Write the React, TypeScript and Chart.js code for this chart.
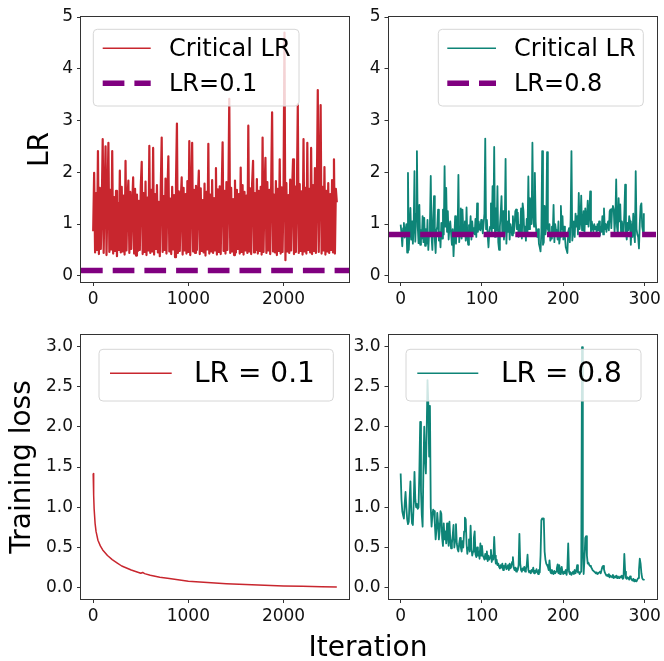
import React, { useEffect, useRef } from 'react';
import { Chart, registerables } from 'chart.js';

Chart.register(...registerables);

// ---------------- data ----------------
// Top-left: critical LR while training with LR = 0.1 (sampled every 10 iterations)
const lr01IterStep = 10;
const criticalLR01 = [
  0.86, 1.99, 0.45, 1.60, 0.50, 2.41, 0.42, 1.70, 0.52, 1.35, 2.64, 0.44, 1.58, 2.50, 0.40, 1.48,
  2.57, 0.46, 1.66, 0.51, 2.41, 0.43, 1.52, 0.48, 1.64, 0.38, 1.41, 0.50, 2.03, 0.45, 1.72, 0.47,
  1.55, 0.41, 2.22, 0.49, 1.48, 1.84, 0.44, 1.62, 0.52, 1.37, 1.90, 0.43, 1.68, 0.39, 1.57, 0.48,
  1.45, 0.50, 1.73, 2.20, 0.42, 1.60, 0.46, 1.82, 0.40, 1.51, 0.49, 2.51, 0.44, 1.66, 0.47, 2.47,
  0.41, 1.58, 0.52, 1.75, 0.45, 1.43, 0.38, 1.69, 2.67, 0.46, 1.54, 0.50, 1.88, 0.43, 1.61, 2.31,
  0.47, 1.49, 0.42, 1.72, 0.51, 1.56, 0.36, 1.80, 2.94, 0.44, 1.63, 0.48, 1.47, 1.90, 0.41, 1.70,
  0.49, 1.58, 0.43, 1.83, 0.46, 2.60, 0.40, 1.52, 2.57, 0.47, 1.66, 0.44, 1.74, 0.50, 1.55, 2.03,
  0.42, 1.69, 0.48, 1.46, 0.45, 1.78, 0.39, 1.62, 0.51, 2.55, 0.43, 1.57, 0.47, 1.85, 0.44, 1.50,
  0.49, 2.08, 0.41, 1.67, 0.46, 1.73, 0.42, 1.59, 2.58, 0.48, 1.64, 0.43, 1.81, 0.50, 1.53, 3.42,
  0.44, 1.70, 0.47, 1.48, 0.40, 1.84, 0.45, 1.66, 0.52, 1.58, 0.43, 2.09, 0.46, 1.75, 0.41, 1.62,
  0.49, 1.55, 0.44, 2.90, 0.47, 1.69, 0.42, 1.78, 2.22, 0.45, 1.60, 0.50, 1.87, 0.43, 1.64, 0.48,
  1.72, 0.41, 2.67, 0.46, 1.59, 2.28, 0.44, 1.81, 0.49, 1.66, 0.42, 1.74, 3.16, 0.47, 1.57, 0.45,
  1.83, 0.40, 1.68, 0.48, 2.25, 0.43, 1.71, 0.46, 1.62, 4.70, 0.30, 1.79, 0.47, 1.56, 0.44, 1.86,
  0.49, 1.65, 2.25, 0.42, 1.73, 0.46, 1.60, 3.31, 0.44, 1.77, 0.48, 1.63, 0.41, 2.64, 0.47, 1.70,
  0.43, 2.57, 0.50, 1.68, 0.45, 2.47, 0.42, 1.75, 0.48, 2.08, 0.44, 1.66, 3.59, 0.46, 1.81, 3.30,
  0.43, 1.72, 0.49, 2.10, 0.41, 1.64, 0.47, 1.79, 0.44, 1.58, 0.50, 1.85, 0.45, 2.25, 0.43, 1.68,
  1.42,
];
const lr01Value = 0.1;

// Top-right: critical LR while training with LR = 0.8 (every iteration)
const criticalLR08 = [
  0.99, 0.82, 0.57, 0.92, 1.02, 0.74, 0.88, 1.00, 0.45, 1.99, 0.50, 0.85, 1.31, 0.70, 1.05, 0.62, 0.95, 2.02, 0.66, 1.20,
  2.41, 0.95, 0.63, 1.37, 0.60, 0.88, 0.72, 1.15, 0.65, 1.12, 0.58, 0.90, 0.62, 1.08, 0.50, 0.82, 1.00, 1.93, 0.75, 0.50,
  1.10, 1.54, 0.70, 0.44, 0.88, 0.95, 1.28, 0.68, 0.85, 0.55, 1.02, 0.72, 1.28, 0.80, 2.12, 0.95, 1.70, 0.85, 1.25, 0.70,
  0.95, 1.05, 0.82, 0.60, 0.90, 0.38, 0.75, 1.15, 0.62, 0.95, 0.80, 1.95, 0.65, 0.88, 1.30, 0.72, 1.28, 0.90, 0.78, 1.05,
  0.68, 1.32, 0.75, 0.60, 0.98, 0.85, 1.15, 0.70, 1.05, 0.82, 0.92, 0.80, 1.10, 0.75, 1.40, 0.85, 1.05, 0.90, 0.88, 1.08,
  0.95, 0.82, 1.00, 1.20, 2.65, 0.90, 1.08, 0.78, 0.55, 0.85, 0.95, 1.40, 0.80, 1.73, 0.92, 2.49, 0.75, 1.30, 0.88, 1.73,
  0.65, 0.50, 0.95, 1.20, 1.54, 0.80, 1.25, 0.70, 0.95, 2.26, 0.62, 1.05, 0.85, 1.25, 0.70, 1.00, 0.92, 0.78, 1.15, 0.82,
  0.95, 1.25, 1.28, 0.90, 1.22, 0.75, 0.98, 0.85, 1.30, 0.72, 1.40, 1.25, 0.80, 0.95, 0.68, 1.10, 0.85, 1.92, 0.90, 1.50,
  1.10, 1.00, 2.57, 1.20, 0.95, 1.99, 1.05, 0.80, 0.75, 0.90, 0.62, 0.55, 0.47, 0.85, 2.41, 0.60, 0.65, 1.35, 0.80, 0.95,
  2.39, 0.90, 0.85, 1.00, 0.68, 0.72, 0.95, 0.80, 1.37, 0.65, 1.00, 0.88, 0.85, 0.70, 1.05, 0.62, 0.75, 1.35, 0.90, 1.15,
  0.70, 0.95, 0.75, 0.55, 0.50, 0.44, 0.85, 0.92, 0.65, 1.10, 2.41, 0.68, 0.85, 1.05, 0.75, 1.20, 0.95, 1.15, 0.80, 1.60,
  0.90, 1.05, 1.55, 0.88, 0.95, 1.25, 0.82, 1.30, 1.00, 1.10, 1.45, 0.95, 1.20, 1.63, 0.85, 1.05, 0.92, 0.85, 1.00, 0.90,
  0.95, 0.82, 1.00, 0.88, 1.05, 0.78, 0.95, 0.85, 1.15, 0.80, 1.30, 0.90, 1.00, 0.85, 0.98, 1.05, 0.88, 1.25, 1.28, 0.92,
  1.30, 1.35, 1.28, 0.85, 1.10, 1.86, 0.95, 0.80, 1.50, 1.05, 1.38, 0.82, 1.05, 0.90, 0.78, 1.20, 1.76, 0.85, 0.70, 1.02,
  0.88, 1.15, 1.05, 0.60, 1.00, 0.75, 1.20, 0.82, 0.65, 2.02, 0.90, 0.80, 0.75, 0.53, 1.00, 1.35, 1.40, 0.95, 0.85, 1.21,
];
const lr08Value = 0.8;

// Bottom-left: training loss with LR = 0.1
const loss01Iterations = [0, 5, 10, 20, 30, 50, 75, 100, 150, 200, 250, 300, 400, 500, 520, 540, 600, 700, 800, 1000, 1200, 1400, 1600, 1800, 2000, 2200, 2400, 2560];
const loss01 = [1.42, 1.15, 0.98, 0.80, 0.70, 0.59, 0.52, 0.47, 0.40, 0.35, 0.31, 0.27, 0.22, 0.18, 0.19, 0.175, 0.155, 0.13, 0.115, 0.08, 0.065, 0.05, 0.04, 0.03, 0.022, 0.017, 0.013, 0.01];

// Bottom-right: training loss with LR = 0.8 (every iteration)
const loss08 = [
  1.42, 1.10, 0.95, 0.90, 0.86, 1.05, 1.19, 1.00, 0.85, 0.79, 0.82, 1.10, 1.32, 0.95, 0.80, 0.78, 1.05, 1.44, 1.10, 1.00,
  1.04, 0.98, 1.00, 1.45, 2.06, 1.20, 0.90, 0.76, 1.50, 2.00, 1.60, 1.42, 1.95, 2.58, 2.29, 1.63, 2.26, 1.00, 0.76, 0.90,
  0.97, 0.95, 0.80, 0.60, 0.72, 0.93, 0.80, 0.60, 0.70, 0.95, 0.92, 0.62, 0.52, 0.80, 0.60, 0.70, 0.55, 0.80, 0.65, 0.52,
  0.82, 0.60, 0.49, 0.55, 0.65, 0.78, 0.50, 0.60, 0.79, 0.55, 0.48, 0.45, 0.55, 0.62, 0.50, 0.45, 0.58, 0.50, 0.70, 0.87,
  0.85, 0.55, 0.42, 0.50, 0.60, 0.45, 0.77, 0.50, 0.40, 0.45, 0.62, 0.70, 0.42, 0.38, 0.50, 0.40, 0.45, 0.36, 0.55, 0.40,
  0.52, 0.40, 0.38, 0.35, 0.42, 0.36, 0.45, 0.33, 0.40, 0.35, 0.38, 0.47, 0.32, 0.40, 0.35, 0.63, 0.40, 0.30, 0.35, 0.28,
  0.30, 0.26, 0.24, 0.28, 0.25, 0.30, 0.22, 0.27, 0.25, 0.30, 0.23, 0.25, 0.28, 0.22, 0.30, 0.24, 0.26, 0.32, 0.38, 0.25,
  0.22, 0.25, 0.20, 0.24, 0.22, 0.28, 0.67, 0.30, 0.22, 0.20, 0.24, 0.22, 0.26, 0.20, 0.23, 0.28, 0.41, 0.22, 0.19, 0.21,
  0.18, 0.22, 0.20, 0.25, 0.18, 0.21, 0.19, 0.23, 0.20, 0.17, 0.22, 0.19, 0.40, 0.84, 0.86, 0.85, 0.86, 0.45, 0.35, 0.30,
  0.28, 0.26, 0.22, 0.34, 0.20, 0.18, 0.22, 0.19, 0.17, 0.21, 0.18, 0.20, 0.24, 0.29, 0.18, 0.28, 0.17, 0.22, 0.26, 0.19,
  0.17, 0.20, 0.18, 0.22, 0.16, 0.25, 0.55, 0.20, 0.17, 0.19, 0.16, 0.18, 0.20, 0.17, 0.22, 0.18, 0.21, 0.28, 0.19, 0.20,
  0.17, 0.19, 0.20, 2.99, 0.45, 0.17, 0.35, 0.62, 0.64, 0.40, 0.30, 0.31, 0.28, 0.27, 0.26, 0.24, 0.22, 0.21, 0.20, 0.19,
  0.18, 0.19, 0.17, 0.18, 0.19, 0.20, 0.18, 0.22, 0.26, 0.27, 0.23, 0.19, 0.17, 0.15, 0.16, 0.14, 0.17, 0.13, 0.15, 0.14,
  0.13, 0.16, 0.12, 0.14, 0.13, 0.15, 0.12, 0.14, 0.13, 0.12, 0.14, 0.13, 0.15, 0.11, 0.12, 0.42, 0.20, 0.12, 0.11, 0.13,
  0.12, 0.10, 0.14, 0.12, 0.10, 0.09, 0.11, 0.08, 0.10, 0.09, 0.08, 0.10, 0.12, 0.22, 0.36, 0.30, 0.18, 0.12, 0.10, 0.11,
];

// axes
const lrYTicks = [0, 1, 2, 3, 4, 5];
const lossYTicks = [0, 0.5, 1.0, 1.5, 2.0, 2.5, 3.0];
const longXTicks = [0, 1000, 2000];
const shortXTicks = [0, 100, 200, 300];
const lrYRange = [-0.12, 5];
const lossYRange = [-0.14, 3.14];
const longXRange = [-128, 2688];
const shortXRange = [-14.95, 313.95];

const seriesLabels = {
  critical: 'Critical LR',
  lr01: 'LR=0.1',
  lr08: 'LR=0.8',
  loss01: 'LR = 0.1',
  loss08: 'LR = 0.8',
};

// ---------------- styles ----------------
const FONT = "'DejaVu Sans', 'Noto Sans', sans-serif";
const RED = '#c8262e';
const TEAL = '#0e8477';
const PURPLE = '#800080';

Chart.defaults.font.family = FONT;

const frameLegendPlugin = {
  id: 'frameLegend',
  afterDatasetsDraw(chart: any, _args: any, opts: any) {
    const { ctx, chartArea: a } = chart;
    ctx.save();
    // frame (spines)
    ctx.strokeStyle = '#333333';
    ctx.lineWidth = 1;
    ctx.strokeRect(Math.round(a.left) - 0.5, Math.round(a.top) - 0.5, Math.round(a.right - a.left) + 1, Math.round(a.bottom - a.top) + 1);
    // legend box
    const L = opts.legend;
    if (L) {
      const x = a.left + L.x, y = a.top + L.y, w = L.w, h = L.h, r = 4;
      ctx.beginPath();
      ctx.moveTo(x + r, y);
      ctx.lineTo(x + w - r, y);
      ctx.arcTo(x + w, y, x + w, y + r, r);
      ctx.lineTo(x + w, y + h - r);
      ctx.arcTo(x + w, y + h, x + w - r, y + h, r);
      ctx.lineTo(x + r, y + h);
      ctx.arcTo(x, y + h, x, y + h - r, r);
      ctx.lineTo(x, y + r);
      ctx.arcTo(x, y, x + r, y, r);
      ctx.closePath();
      ctx.fillStyle = 'rgba(255,255,255,0.8)';
      ctx.fill();
      ctx.strokeStyle = '#d6d6d6';
      ctx.lineWidth = 1;
      ctx.stroke();
      chart.data.datasets.forEach((ds: any, i: number) => {
        const cy = a.top + L.rows[i];
        ctx.beginPath();
        ctx.setLineDash(ds.borderDash || []);
        ctx.lineCap = 'butt';
        ctx.strokeStyle = ds.borderColor;
        ctx.lineWidth = ds.borderDash ? ds.borderWidth : L.sampleWidth;
        ctx.moveTo(a.left + L.s0, cy);
        ctx.lineTo(a.left + L.s1, cy);
        ctx.stroke();
        ctx.setLineDash([]);
        ctx.fillStyle = '#000';
        ctx.font = `${L.fontSize}px ${FONT}`;
        ctx.textBaseline = 'middle';
        ctx.textAlign = 'left';
        ctx.fillText(ds.label, a.left + L.tx, cy + 1);
      });
    }
    ctx.restore();
  },
};

type PanelSpec = {
  datasets: any[];
  xRange: number[];
  xTicks: number[];
  yRange: number[];
  yTicks: number[];
  yDecimals: number;
  yTitle?: string;
  yTitlePad?: number;
  pad: { top: number; right: number };
  axisW: number;
  axisH: number;
  legend: any;
};

function makeConfig(p: PanelSpec): any {
  const tickFont = { size: 17, family: FONT };
  return {
    type: 'line',
    data: { datasets: p.datasets },
    plugins: [frameLegendPlugin],
    options: {
      responsive: false,
      animation: false,
      events: [],
      layout: { padding: { top: p.pad.top, right: p.pad.right, left: 0, bottom: 0 } },
      plugins: {
        legend: { display: false },
        tooltip: { enabled: false },
        frameLegend: { legend: p.legend },
      },
      scales: {
        x: {
          type: 'linear',
          min: p.xRange[0],
          max: p.xRange[1],
          afterBuildTicks: (s: any) => { s.ticks = p.xTicks.map((v) => ({ value: v })); },
          afterFit: (s: any) => { s.height = p.axisH; s.paddingLeft = 0; s.paddingRight = 0; },
          ticks: { autoSkip: false, maxRotation: 0, minRotation: 0, padding: 3, color: '#111', font: tickFont, callback: (v: any) => String(v) },
          grid: { drawOnChartArea: false, drawTicks: true, tickLength: 4, color: '#333', lineWidth: 1 },
          border: { display: false },
        },
        y: {
          type: 'linear',
          min: p.yRange[0],
          max: p.yRange[1],
          afterBuildTicks: (s: any) => { s.ticks = p.yTicks.map((v) => ({ value: v })); },
          afterFit: (s: any) => { s.width = p.axisW; s.paddingTop = 0; s.paddingBottom = 0; },
          ticks: { autoSkip: false, padding: 4, color: '#111', font: tickFont, callback: (v: any) => Number(v).toFixed(p.yDecimals) },
          grid: { drawOnChartArea: false, drawTicks: true, tickLength: 4, color: '#333', lineWidth: 1 },
          border: { display: false },
          title: p.yTitle
            ? { display: true, text: p.yTitle, color: '#000', font: { size: 28, family: FONT, lineHeight: 1 }, padding: { top: p.yTitlePad, bottom: 0 } }
            : { display: false },
        },
      },
    },
  };
}

function lineDs(label: string, pts: { x: number; y: number }[], color: string, width: number, order: number) {
  return {
    label, data: pts, borderColor: color, backgroundColor: color, borderWidth: width,
    pointRadius: 0, tension: 0, fill: false, borderJoinStyle: 'round', order,
  };
}
function hlineDs(label: string, value: number, xr: number[], order: number) {
  return {
    label, data: [{ x: xr[0], y: value }, { x: xr[1], y: value }], borderColor: PURPLE, backgroundColor: PURPLE,
    borderWidth: 5.5, borderDash: [21.7, 10], borderCapStyle: 'butt', pointRadius: 0, fill: false, order,
  };
}

const ptsTL = criticalLR01.map((y, i) => ({ x: i * lr01IterStep, y }));
const ptsTR = criticalLR08.map((y, i) => ({ x: i, y }));
const ptsBL = loss01.map((y, i) => ({ x: loss01Iterations[i], y }));
const ptsBR = loss08.map((y, i) => ({ x: i, y }));

const topLegendRows = [31.3, 66.3];
const bottomLegendRows = [38.3];

const panels = [
  {
    box: { left: 0, top: 0, width: 360, height: 320 },
    spec: {
      datasets: [lineDs(seriesLabels.critical, ptsTL, RED, 2.2, 2), hlineDs(seriesLabels.lr01, lr01Value, longXRange, 1)],
      xRange: longXRange, xTicks: longXTicks, yRange: lrYRange, yTicks: lrYTicks, yDecimals: 0,
      yTitle: 'LR', yTitlePad: 27, pad: { top: 17, right: 11 }, axisW: 81, axisH: 38,
      legend: { x: 12.3, y: 12.3, w: 205.7, h: 76.7, rows: topLegendRows, s0: 21.7, s1: 69.7, tx: 88, fontSize: 24, sampleWidth: 1.5 },
    },
  },
  {
    box: { left: 340, top: 0, width: 324, height: 320 },
    spec: {
      datasets: [lineDs(seriesLabels.critical, ptsTR, TEAL, 1.8, 2), hlineDs(seriesLabels.lr08, lr08Value, shortXRange, 1)],
      xRange: shortXRange, xTicks: shortXTicks, yRange: lrYRange, yTicks: lrYTicks, yDecimals: 0,
      pad: { top: 17, right: 8 }, axisW: 48.5, axisH: 38,
      legend: { x: 49.8, y: 12.3, w: 205, h: 76.7, rows: topLegendRows, s0: 58.8, s1: 107.5, tx: 125.5, fontSize: 24, sampleWidth: 1.5 },
    },
  },
  {
    box: { left: 0, top: 320, width: 360, height: 341 },
    spec: {
      datasets: [lineDs(seriesLabels.loss01, ptsBL, RED, 1.5, 1)],
      xRange: longXRange, xTicks: longXTicks, yRange: lossYRange, yTicks: lossYTicks, yDecimals: 1,
      yTitle: 'Training loss', yTitlePad: 9, pad: { top: 15, right: 11 }, axisW: 81, axisH: 62,
      legend: { x: 18, y: 14.3, w: 234.3, h: 51.7, rows: bottomLegendRows, s0: 29, s1: 90.7, tx: 113, fontSize: 28, sampleWidth: 1.5 },
    },
  },
  {
    box: { left: 340, top: 320, width: 324, height: 341 },
    spec: {
      datasets: [lineDs(seriesLabels.loss08, ptsBR, TEAL, 1.8, 1)],
      xRange: shortXRange, xTicks: shortXTicks, yRange: lossYRange, yTicks: lossYTicks, yDecimals: 1,
      pad: { top: 15, right: 8 }, axisW: 48.5, axisH: 62,
      legend: { x: 17.5, y: 14.3, w: 235, h: 51.7, rows: bottomLegendRows, s0: 28.8, s1: 89.8, tx: 112.5, fontSize: 28, sampleWidth: 1.5 },
    },
  },
];

function Panel({ box, spec }: { box: any; spec: PanelSpec }) {
  const ref = useRef<HTMLCanvasElement>(null);
  useEffect(() => {
    const chart = new Chart(ref.current as HTMLCanvasElement, makeConfig(spec));
    return () => chart.destroy();
  }, []);
  return (
    <canvas
      ref={ref}
      width={box.width}
      height={box.height}
      style={{ position: 'absolute', left: box.left, top: box.top, width: box.width, height: box.height }}
    />
  );
}

export default function App() {
  return (
    <div style={{ position: 'fixed', left: 0, top: 0, width: 664, height: 661, background: '#fff', overflow: 'hidden' }}>
      {panels.map((p, i) => (
        <Panel key={i} box={p.box} spec={p.spec} />
      ))}
      <div
        style={{
          position: 'absolute', left: 268, top: 630, width: 200, textAlign: 'center',
          fontFamily: FONT, fontSize: 28, lineHeight: '34px', color: '#000',
        }}
      >
        Iteration
      </div>
    </div>
  );
}
